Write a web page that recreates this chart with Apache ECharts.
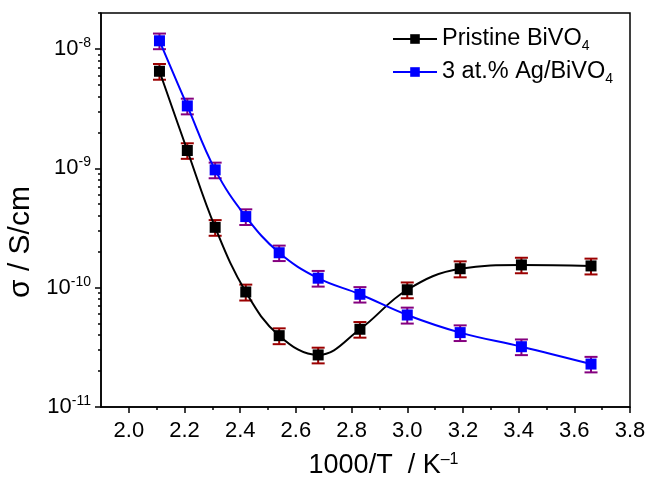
<!DOCTYPE html>
<html><head><meta charset="utf-8">
<script src="https://cdn.jsdelivr.net/npm/echarts@6/dist/echarts.min.js"></script>
<style>html,body{margin:0;padding:0;background:#fff}#c{width:650px;height:484px}</style>
</head><body><div id="c"></div>
<script>
const seriesNames = ['Pristine BiVO4', '3 at.% Ag/BiVO4'];
const xValues = [2.11, 2.21, 2.31, 2.42, 2.54, 2.68, 2.83, 3.00, 3.19, 3.41, 3.66];
const pristine = [6.5e-9, 1.41e-9, 3.2e-10, 9.2e-11, 3.96e-11, 2.73e-11, 4.48e-11, 9.6e-11, 1.44e-10, 1.55e-10, 1.52e-10];
const pristineErr = [0.98e-9, 0.21e-9, 0.48e-10, 1.4e-11, 0.6e-11, 0.41e-11, 0.67e-11, 1.45e-11, 0.22e-10, 0.23e-10, 0.23e-10];
const ag = [1.17e-8, 3.33e-9, 9.7e-10, 3.94e-10, 1.96e-10, 1.2e-10, 8.8e-11, 5.9e-11, 4.2e-11, 3.2e-11, 2.29e-11];
const agErr = [1.75e-9, 0.5e-9, 1.45e-10, 0.59e-10, 0.29e-10, 0.18e-10, 1.3e-11, 0.9e-11, 0.63e-11, 0.48e-11, 0.34e-11];
const xMajorTicks = [2.0, 2.2, 2.4, 2.6, 2.8, 3.0, 3.2, 3.4, 3.6, 3.8];
const xMinorTicks = [2.1, 2.3, 2.5, 2.7, 2.9, 3.1, 3.3, 3.5, 3.7];
const yMajorTicks = [1e-11, 1e-10, 1e-9, 1e-8];
const yMinorTicks = [2e-11,3e-11,4e-11,5e-11,6e-11,7e-11,8e-11,9e-11,
  2e-10,3e-10,4e-10,5e-10,6e-10,7e-10,8e-10,9e-10,
  2e-9,3e-9,4e-9,5e-9,6e-9,7e-9,8e-9,9e-9, 2e-8];

const FONT = '"Liberation Sans", Arial, sans-serif';
const chart = echarts.init(document.getElementById('c'), null, {renderer: 'canvas'});

function errSeries(vals, errs, color) {
  return {
    type: 'custom', xAxisIndex: 0, yAxisIndex: 0, silent: true, z: 1,
    data: xValues.map((x, i) => [x, vals[i] - errs[i], vals[i] + errs[i]]),
    encode: {x: 0, y: [1, 2]},
    renderItem: (params, api) => {
      const lo = api.coord([api.value(0), api.value(1)]);
      const hi = api.coord([api.value(0), api.value(2)]);
      const hw = 6.5;
      const style = {stroke: color, lineWidth: 2};
      return {type: 'group', children: [
        {type: 'line', shape: {x1: lo[0], y1: lo[1], x2: hi[0], y2: hi[1]}, style},
        {type: 'line', shape: {x1: lo[0] - hw, y1: lo[1], x2: lo[0] + hw, y2: lo[1]}, style},
        {type: 'line', shape: {x1: hi[0] - hw, y1: hi[1], x2: hi[0] + hw, y2: hi[1]}, style}
      ]};
    }
  };
}

function lineSeries(name, vals, color) {
  return {
    type: 'line', name, xAxisIndex: 0, yAxisIndex: 0, z: 3,
    data: xValues.map((x, i) => [x, vals[i]]),
    smooth: 0.4, symbol: 'rect', symbolSize: 11,
    lineStyle: {color, width: 2}, itemStyle: {color},
    emphasis: {disabled: true}
  };
}

const axisLineStyle = {color: '#000', width: 1.5};
chart.setOption({
  animation: false,
  textStyle: {fontFamily: FONT},
  grid: {left: 101, right: 20, top: 13, bottom: 77, show: true, borderColor: '#000', borderWidth: 1.5, outerBoundsMode: 'none'},
  legend: {
    data: seriesNames, orient: 'vertical', left: 387, top: 20,
    itemWidth: 44, itemHeight: 12, itemGap: 5,
    formatter: n => '{a|' + n.slice(0, -1) + '}{s|' + n.slice(-1) + '}',
    textStyle: {color: '#000', rich: {
      a: {fontSize: 23.5, fontFamily: FONT, color: '#000', lineHeight: 28},
      s: {fontSize: 14, fontFamily: FONT, color: '#000', lineHeight: 14, padding: [14, 0, 0, 0]}
    }}
  },
  xAxis: [{
    type: 'value', min: 1.9, max: 3.8, position: 'bottom',
    axisLine: {lineStyle: axisLineStyle},
    axisTick: {customValues: xMajorTicks, length: 6, lineStyle: axisLineStyle},
    axisLabel: {customValues: xMajorTicks, formatter: v => v.toFixed(1), fontSize: 22, color: '#000', margin: 13, fontFamily: FONT},
    splitLine: {show: false},
    name: '{a|1000/T  / K}{s|\u20131}', nameLocation: 'middle', nameGap: 44,
    nameTextStyle: {padding: [0, 0, 0, 36], rich: {
      a: {fontSize: 27, fontFamily: FONT, color: '#000', lineHeight: 30},
      s: {fontSize: 16, fontFamily: FONT, color: '#000', lineHeight: 16, padding: [0, 0, 13, 0]}
    }}
  }, {
    type: 'value', min: 1.9, max: 3.8, position: 'bottom',
    axisLine: {show: false},
    axisTick: {customValues: xMinorTicks, length: 3, lineStyle: axisLineStyle},
    axisLabel: {show: false}, splitLine: {show: false}
  }],
  yAxis: [{
    type: 'log', logBase: 10, min: 1e-11, max: 2e-8, position: 'left',
    axisLine: {show: true, lineStyle: axisLineStyle},
    axisTick: {show: true, customValues: yMajorTicks, length: 6, lineStyle: axisLineStyle},
    axisLabel: {customValues: yMajorTicks, margin: 10,
      formatter: v => '{b|10}{s|' + Math.round(Math.log10(v)) + '}',
      rich: {
        b: {fontSize: 22, fontFamily: FONT, color: '#000', lineHeight: 26},
        s: {fontSize: 14, fontFamily: FONT, color: '#000', lineHeight: 14, padding: [0, 0, 12, 0]}
      }},
    splitLine: {show: false},
    name: '\u03c3 / S/cm', nameLocation: 'middle', nameGap: 64,
    nameTextStyle: {fontSize: 30, color: '#000', fontFamily: FONT, padding: [0, 64, 0, 0]}
  }, {
    type: 'log', logBase: 10, min: 1e-11, max: 2e-8, position: 'left',
    axisLine: {show: false},
    axisTick: {show: true, customValues: yMinorTicks, length: 3, lineStyle: axisLineStyle},
    axisLabel: {show: false}, splitLine: {show: false}
  }],
  series: [
    errSeries(pristine, pristineErr, '#9b0000'),
    errSeries(ag, agErr, '#85007f'),
    lineSeries(seriesNames[0], pristine, '#000000'),
    lineSeries(seriesNames[1], ag, '#0000ff')
  ]
});
</script></body></html>
